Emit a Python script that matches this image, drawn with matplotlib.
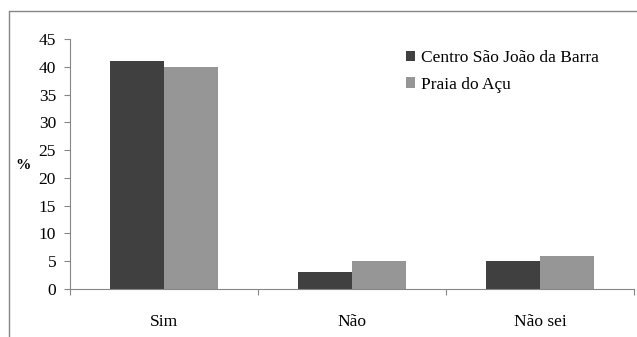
import matplotlib
matplotlib.use('Agg')
import matplotlib.pyplot as plt
from matplotlib.lines import Line2D
import numpy as np

plt.rcParams['font.family'] = ['Liberation Serif', 'DejaVu Serif']

categories = ['Sim', 'Não', 'Não sei']
centro = [41, 3, 5]
praia = [40, 5, 6]
series_names = ['Centro São João da Barra', 'Praia do Açu']

fig = plt.figure(figsize=(6.37, 3.37), dpi=100)
ax = fig.add_axes([70/637, 1-289/337, 564/637, 250/337])

x = np.arange(len(categories))
w = 0.285
ax.bar(x - w/2, centro, w, color='#404040', label=series_names[0])
ax.bar(x + w/2, praia, w, color='#969696', label=series_names[1])

ax.set_xlim(-0.5, 2.5)
ax.set_ylim(0, 45)
ax.set_yticks(range(0, 50, 5))
ax.set_xticks([-0.5, 0.5, 1.5, 2.5])
ax.set_xticklabels([])
ax.set_xticks(x, minor=True)
ax.set_xticklabels(categories, minor=True)
ax.tick_params(axis='x', which='minor', length=0, pad=18, labelsize=12.5)
ax.tick_params(axis='x', which='major', length=4, direction='out', color='#868686')
ax.tick_params(axis='y', length=4, direction='out', color='#868686', pad=6, labelsize=12.5)

for s in ['top', 'right']:
    ax.spines[s].set_visible(False)
for s in ['left', 'bottom']:
    ax.spines[s].set_color('#868686')

ax.set_ylabel('%', rotation=0, fontweight='bold', fontsize=11)
ax.yaxis.set_label_coords(-47/564, (289-172)/250)

ax.legend(loc='upper left', bbox_to_anchor=(322/564, 1.01), frameon=False,
          fontsize=12.5, handlelength=0.55, handleheight=0.55, handletextpad=0.3,
          labelspacing=0.6, borderpad=0.3)

# outer frame lines
fig.add_artist(Line2D([9/637, 9/637, 1.0], [0, 1-11/337, 1-11/337],
                      color='#868686', lw=1.0, transform=fig.transFigure))

fig.savefig('out.png', dpi=100)
